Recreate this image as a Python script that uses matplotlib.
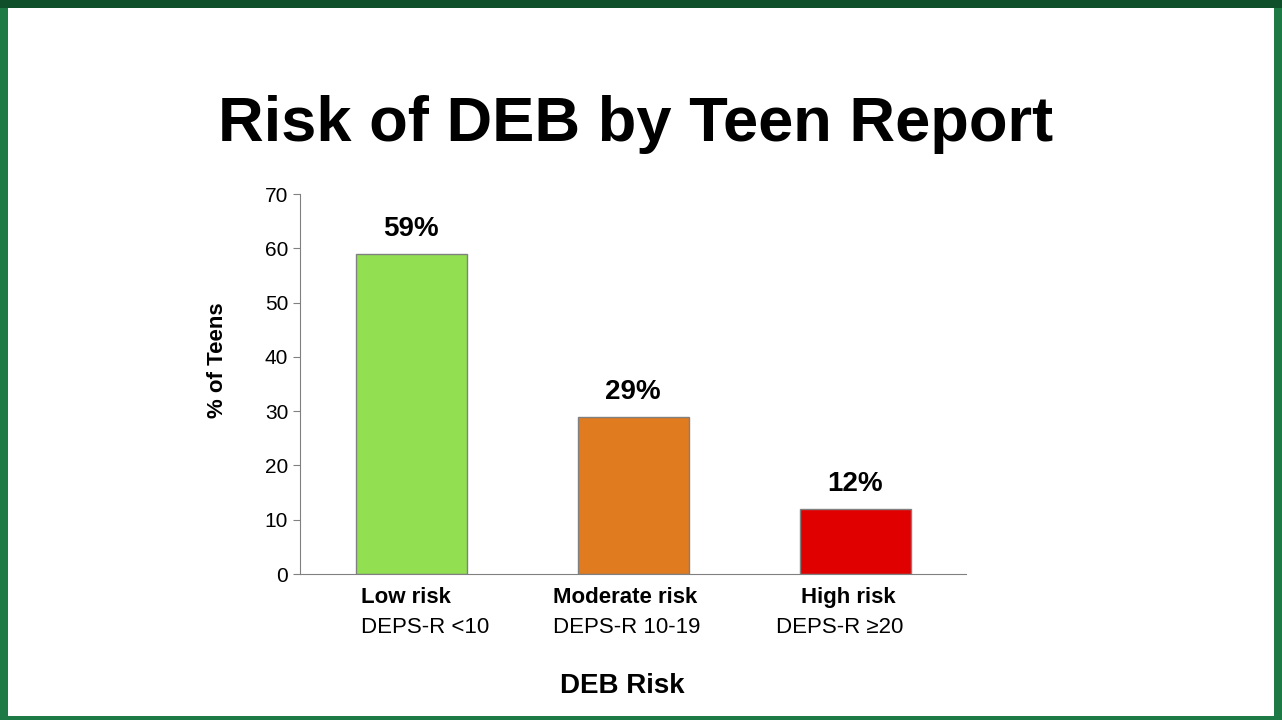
import matplotlib.pyplot as plt
from matplotlib.patches import Rectangle

categories = ["Low risk", "Moderate risk", "High risk"]
subtitles = ["DEPS-R <10", "DEPS-R 10-19", "DEPS-R \u226520"]
values = [59, 29, 12]
colors = ["#92E052", "#E07B20", "#E00000"]

fig = plt.figure(figsize=(12.82, 7.2), dpi=100)
fig.patch.set_facecolor("#1E7A45")
fig.add_artist(Rectangle((8 / 1282, 4 / 720), 1266 / 1282, 708 / 720,
                         transform=fig.transFigure, facecolor="white",
                         edgecolor="none", zorder=0))
fig.add_artist(Rectangle((0, 712 / 720), 1, 8 / 720, transform=fig.transFigure,
                         facecolor="#0F4F2A", edgecolor="none", zorder=0))

fig.text(0.496, 1 - 124 / 720, "Risk of DEB by Teen Report", ha="center", va="center",
         fontsize=45.5, fontweight="bold", family="Liberation Sans")

ax = fig.add_axes([300 / 1282, 146 / 720, 666 / 1282, 380 / 720])
ax.set_facecolor("none")
x = range(len(values))
ax.bar(x, values, width=0.5, color=colors, edgecolor="#808080", linewidth=1)
for xi, v in zip(x, values):
    ax.text(xi, v + 2.2, f"{v}%", ha="center", va="bottom", fontsize=20,
            fontweight="bold", family="Liberation Sans")

ax.set_xlim(-0.5, 2.5)
ax.set_ylim(0, 70)
ax.set_yticks(range(0, 71, 10))
ax.set_xticks([])
ax.tick_params(axis="y", labelsize=15, length=5, direction="out", color="#808080")
for lab in ax.get_yticklabels():
    lab.set_family("Liberation Sans")
for s in ["top", "right"]:
    ax.spines[s].set_visible(False)
for s in ["left", "bottom"]:
    ax.spines[s].set_color("#808080")

# left edges of the two label lines under each bar (offset from bar centre, in bar units)
line1_off = [-0.225, -0.36, -0.243]
line2_off = [-0.225, -0.36, -0.356]
for xi, (c, sub) in enumerate(zip(categories, subtitles)):
    ax.text(xi + line1_off[xi], -2.4, c, ha="left", va="top", fontsize=16,
            fontweight="bold", family="Liberation Sans")
    ax.text(xi + line2_off[xi], -8.0, sub, ha="left", va="top", fontsize=16,
            family="Liberation Sans")

ax.set_ylabel("% of Teens", fontsize=16, fontweight="bold",
              family="Liberation Sans")
ax.yaxis.set_label_coords(-0.108, 0.563)
fig.text(622 / 1282, 1 - 686 / 720, "DEB Risk", ha="center", va="center",
         fontsize=20, fontweight="bold", family="Liberation Sans")

fig.savefig("out.png", dpi=100, facecolor=fig.get_facecolor())
